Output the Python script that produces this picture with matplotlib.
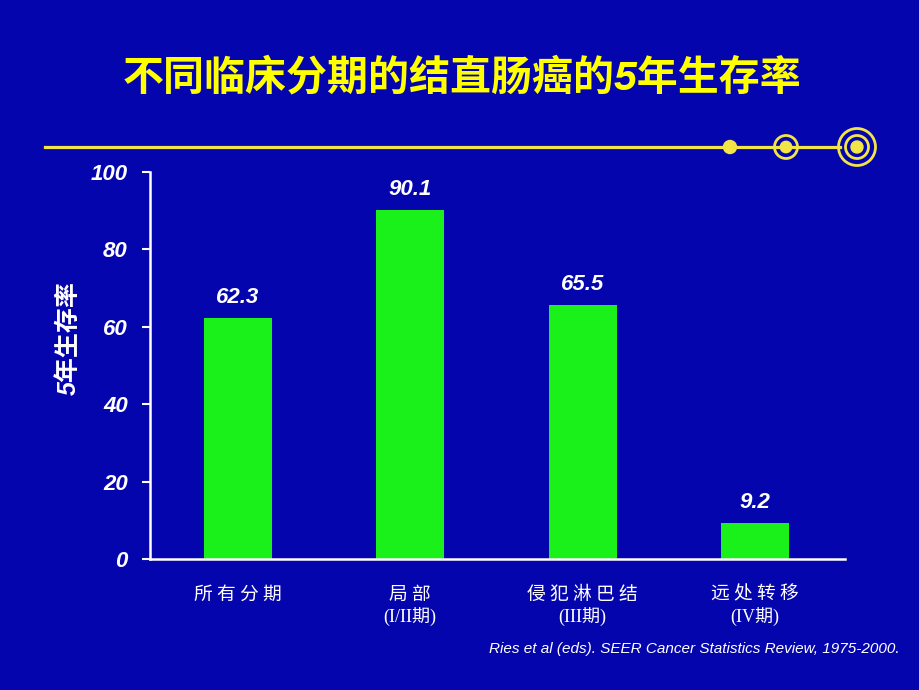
import matplotlib.pyplot as plt
from matplotlib.patches import Circle

stages = ['所 有 分 期', '局 部', '侵 犯 淋 巴 结', '远 处 转 移']
stage_notes = ['', '(I/II期)', '(III期)', '(IV期)']
survival = [62.3, 90.1, 65.5, 9.2]
yticks = [0, 20, 40, 60, 80, 100]

bg = '#0505AE'
green = '#1AF01A'
yellow = '#FFFF00'
line_yellow = '#F2E646'
latin_cjk = ['Liberation Sans', 'Noto Sans CJK SC']

fig = plt.figure(figsize=(9.2, 6.9), dpi=100)
fig.patch.set_facecolor(bg)

# decoration layer in pixel coords
deco = fig.add_axes([0, 0, 1, 1])
deco.set_xlim(0, 920)
deco.set_ylim(690, 0)
deco.axis('off')
deco.plot([45, 840], [147, 147], color=line_yellow, lw=2.3)
deco.add_patch(Circle((730, 147), 6.5, color=line_yellow))
deco.add_patch(Circle((786, 147), 5.7, color=line_yellow))
deco.add_patch(Circle((786, 147), 11.5, fill=False, ec=line_yellow, lw=2.0))
deco.add_patch(Circle((857, 147), 6, color=line_yellow))
deco.add_patch(Circle((857, 147), 11.5, fill=False, ec=line_yellow, lw=2.0))
deco.add_patch(Circle((857, 147), 18.5, fill=False, ec=line_yellow, lw=2.0))

fig.text(0.502, 0.888, '不同临床分期的结直肠癌的5年生存率', color=yellow,
         fontsize=29.5, fontweight='bold', style='italic', family=latin_cjk,
         ha='center', va='center')

ax = fig.add_axes([0.163, 0.19, 0.755, 0.5607])
ax.set_facecolor(bg)
x = range(len(survival))
bars = ax.bar(x, survival, width=0.394, color=green)
for xi, v in zip(x, survival):
    ax.text(xi, v + 2.6, f'{v}', color='white', fontsize=16, fontweight='bold',
            style='italic', family='Liberation Sans', ha='center', va='bottom')

ax.set_xlim(-0.51, 3.52)
ax.set_ylim(0, 100)
ax.set_yticks(yticks)
ax.set_yticklabels([str(t) for t in yticks], color='white', fontsize=16,
                   fontweight='bold', style='italic', family='Liberation Sans')
ax.tick_params(axis='y', colors='white', length=6, width=1.5, pad=10)
ax.tick_params(axis='x', length=0, pad=18)
ax.set_xticks(list(x))
ax.set_xticklabels(stages, color='white', fontsize=13.5, family='Noto Sans CJK SC')
for xi, note in zip(x, stage_notes):
    if note:
        ax.text(xi, -15.0, note, color='white', fontsize=13,
                family=['Liberation Serif', 'Noto Sans CJK SC'],
                ha='center', va='center')

for s in ['top', 'right']:
    ax.spines[s].set_visible(False)
for s in ['left', 'bottom']:
    ax.spines[s].set_color('white')
    ax.spines[s].set_linewidth(1.8)

ax.set_ylabel('5年生存率', color='white', fontsize=18, fontweight='bold',
              style='italic', family=latin_cjk)
ax.yaxis.set_label_coords(-0.1, 0.571)

fig.text(0.978, 0.06, 'Ries et al (eds). SEER Cancer Statistics Review, 1975-2000.',
         color='white', fontsize=11, style='italic', family='Liberation Sans',
         ha='right', va='center')

fig.savefig('out.png', dpi=100, facecolor=bg)
